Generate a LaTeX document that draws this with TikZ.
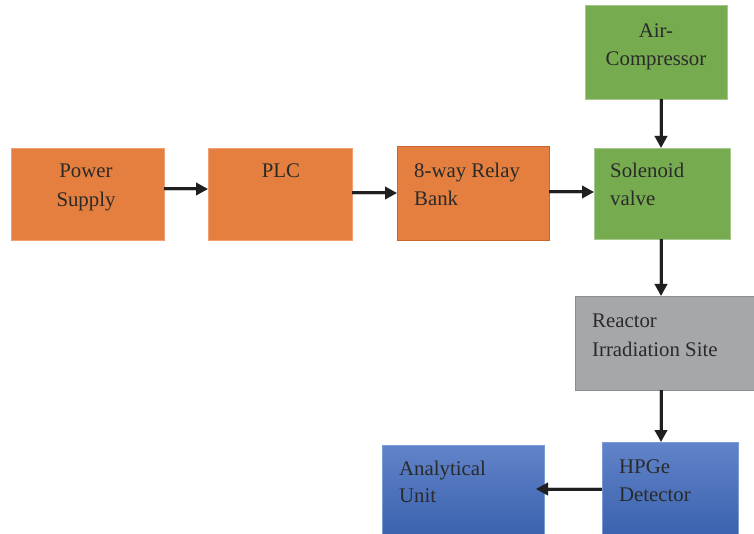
\documentclass[tikz,border=0pt]{standalone}
\usepackage{fontspec}
\setmainfont{Liberation Serif}
\usetikzlibrary{arrows.meta}
\definecolor{orng}{HTML}{E47F3F}
\definecolor{orngdk}{HTML}{C8662E}
\definecolor{orngln}{HTML}{F0A070}
\definecolor{grn}{HTML}{77AB4F}
\definecolor{grnln}{HTML}{A5C98A}
\definecolor{gry}{HTML}{A6A7AB}
\definecolor{gryln}{HTML}{8C8D90}
\definecolor{bluetop}{HTML}{6183C9}
\definecolor{bluebot}{HTML}{3A62AE}
\definecolor{blueln}{HTML}{7C9BD6}
\definecolor{txt}{HTML}{2A2A2A}
\tikzset{
  obox/.style={fill=orng, draw=orngln, line width=0.8pt},
  gbox/.style={fill=grn, draw=grnln, line width=0.8pt},
  ybox/.style={fill=gry, draw=gryln, line width=0.8pt},
  bbox/.style={top color=bluetop, bottom color=bluebot, draw=blueln, line width=0.8pt},
  lbl/.style={font=\fontsize{20.8}{29}\selectfont, text=txt, inner sep=0pt},
  conn/.style={line width=3pt, draw=black!88, -{Triangle[length=12pt,width=12pt]}},
  shad/.style={line width=4pt, draw=black, opacity=0.22, -{Triangle[length=12pt,width=13pt]}}
}
\begin{document}
\begin{tikzpicture}[x=1pt,y=-1pt]
\useasboundingbox (0,0) rectangle (754,534);
% boxes
\path[obox] (11,148) rectangle (164,240);
\coordinate (psE) at (164,189);
\path[obox] (208,148) rectangle (352,240);
\coordinate (plcW) at (208,189);
\coordinate (plcE) at (352,193);
\path[fill=orng, draw=orngdk, line width=1pt] (397,147) rectangle (549,241);
\coordinate (rlyW) at (397,193);
\coordinate (rlyE) at (549,192);
\path[gbox] (594,148) rectangle (730,239);
\coordinate (solW) at (594,192);
\coordinate (solN) at (661,148);
\coordinate (solS) at (661,239);
\path[gbox] (585,5) rectangle (727,99);
\coordinate (airS) at (661,99);
\path[ybox] (575,296) rectangle (756,390);
\coordinate (reaN) at (661,296);
\coordinate (reaS) at (661,390);
\path[bbox] (602,442) rectangle (738,536);
\coordinate (hpN) at (661,442);
\coordinate (hpW) at (602,489);
\path[bbox] (382,445) rectangle (544,536);
\coordinate (anE) at (536,489);
% texts
\node[lbl, anchor=base] (t1) at (86,178) {Power};
\node[lbl, anchor=base] (t2) at (86,207) {Supply};
\node[lbl, anchor=base] (t3) at (281,178) {PLC};
\node[lbl, anchor=base west] (t4) at (414,178) {8-way Relay};
\node[lbl, anchor=base west] (t5) at (414,206) {Bank};
\node[lbl, anchor=base west] (t6) at (610,178) {Solenoid};
\node[lbl, anchor=base west] (t7) at (610,206) {valve};
\node[lbl, anchor=base] (t8) at (656,38) {Air-};
\node[lbl, anchor=base] (t9) at (656,66) {Compressor};
\node[lbl, anchor=base west] (t10) at (592,327) {Reactor};
\node[lbl, anchor=base west] (t11) at (592,356) {Irradiation Site};
\node[lbl, anchor=base west] (t12) at (619,473) {HPGe};
\node[lbl, anchor=base west] (t13) at (619,501) {Detector};
\node[lbl, anchor=base west] (t14) at (399,475) {Analytical};
\node[lbl, anchor=base west] (t15) at (399,502) {Unit};
% shadows
\begin{scope}[shift={(1.5,2.5)}]
\draw[shad] (psE) -- (plcW);
\draw[shad] (plcE) -- (rlyW);
\draw[shad] (rlyE) -- (solW);
\draw[shad] (airS) -- (solN);
\draw[shad] (solS) -- (reaN);
\draw[shad] (reaS) -- (hpN);
\draw[shad] (hpW) -- (anE);
\end{scope}
% connectors
\draw[conn] (psE) -- (plcW);
\draw[conn] (plcE) -- (rlyW);
\draw[conn] (rlyE) -- (solW);
\draw[conn] (airS) -- (solN);
\draw[conn] (solS) -- (reaN);
\draw[conn] (reaS) -- (hpN);
\draw[conn] (hpW) -- (anE);
\end{tikzpicture}
\end{document}
